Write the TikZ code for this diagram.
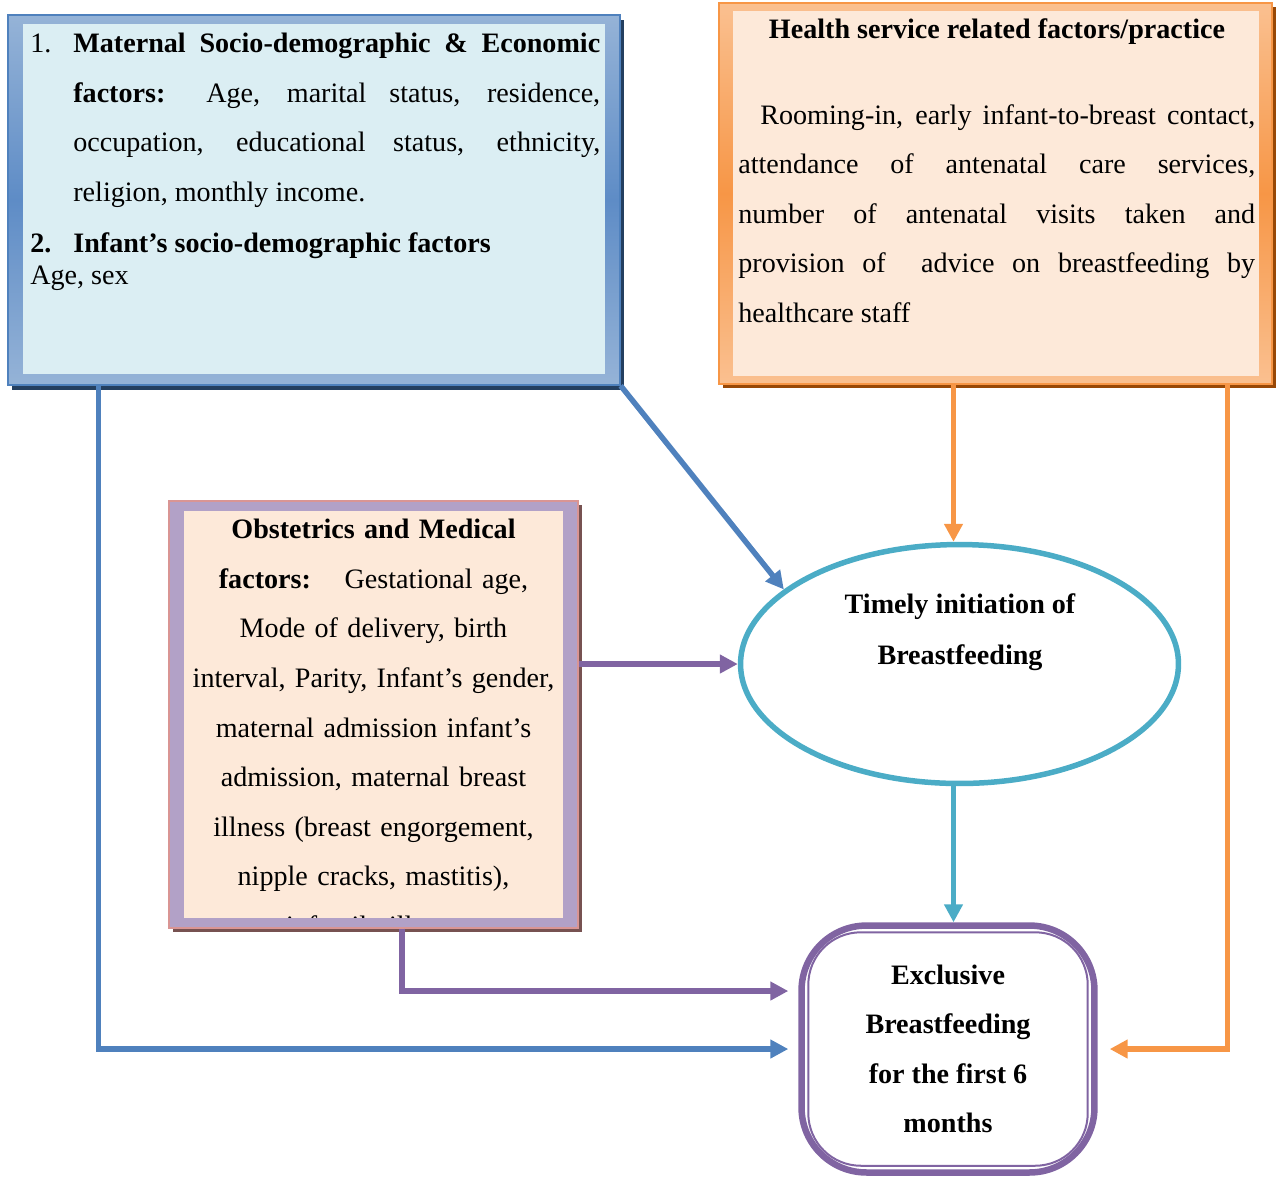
\documentclass[tikz,border=0pt]{standalone}
\usepackage{fontspec}
\setmainfont{Liberation Serif}
\usetikzlibrary{positioning,calc,shapes.geometric,shadows,arrows.meta}

\definecolor{bluefill}{HTML}{DBEEF3}
\definecolor{blueframe}{HTML}{95B3D7}
\definecolor{bluemid}{HTML}{5E8CC6}
\definecolor{blueline}{HTML}{4F81BD}
\definecolor{blueshadow}{HTML}{243F60}
\definecolor{orangefill}{HTML}{FDE9D9}
\definecolor{orangeframe}{HTML}{FAC090}
\definecolor{orangemid}{HTML}{F79646}
\definecolor{orangeline}{HTML}{F79646}
\definecolor{orangeshadow}{HTML}{984806}
\definecolor{lavframe}{HTML}{B2A1C7}
\definecolor{pinkline}{HTML}{D99594}
\definecolor{purpleline}{HTML}{8064A2}
\definecolor{tealline}{HTML}{4BACC6}

\begin{document}
\begin{tikzpicture}[x=0.02cm,y=-0.02cm,
  font=\fontsize{16}{28.2}\selectfont,
  >={Triangle[length=0.36cm,width=0.36cm]},
  link/.style={->,line width=0.11cm},
  txt/.style={inner sep=0pt},
  framebox/.style={line width=0.03cm,inner sep=0pt}]
\useasboundingbox (0,0) rectangle (1277,1178);

% factor boxes
\node[framebox,draw=blueline,top color=blueframe,bottom color=blueframe,middle color=bluemid,
  minimum width=12.24cm,minimum height=7.4cm,
  drop shadow={shadow xshift=0.08cm,shadow yshift=-0.1cm,fill=blueshadow,opacity=1}] (mat) at (314,200) {};
\fill[bluefill] ($(mat.north west)+(16,10)$) rectangle ($(mat.south east)+(-16,-12)$);
\node[txt,anchor=north west,text width=11.4cm,align=justify] (mattxt) at (30,33)
  {\hangindent=0.86cm\hangafter=1\noindent\makebox[0.86cm][l]{1.}\textbf{Maternal Socio-demographic \& Economic}\linebreak
   \textbf{factors:} Age, marital status, residence,\linebreak
   occupation, educational status, ethnicity,\linebreak
   religion, monthly income.\par
   \vspace{1pt}\noindent\makebox[0.86cm][l]{\textbf{2.}}\textbf{Infant’s socio-demographic factors}\par
   {\fontsize{16}{18.2}\selectfont\noindent Age, sex\par}};

\node[framebox,draw=orangeline,top color=orangeframe,bottom color=orangeframe,middle color=orangemid,
  minimum width=11.06cm,minimum height=7.62cm,
  drop shadow={shadow xshift=0.08cm,shadow yshift=-0.08cm,fill=orangeshadow,opacity=1}] (hsf) at (995.5,193.5) {};
\fill[orangefill] ($(hsf.north west)+(15,9)$) rectangle ($(hsf.south east)+(-14,-9)$);
\node[txt,anchor=base] (hsftitle) at (997,38) {\textbf{Health service related factors/practice}};
\node[txt,anchor=north west,text width=10.34cm,align=justify] (hsftxt) at (738,104)
  {\noindent\hspace*{0.44cm}Rooming-in, early infant-to-breast contact,\linebreak
   attendance of antenatal care services,\linebreak
   number of antenatal visits taken and\linebreak
   provision of\ \ advice on breastfeeding by\linebreak
   healthcare staff};

\node[framebox,draw=pinkline,fill=lavframe,
  minimum width=8.18cm,minimum height=8.54cm,
  drop shadow={shadow xshift=0.08cm,shadow yshift=-0.08cm,fill=black!45!pinkline,opacity=1}] (obs) at (373.5,714.5) {};
\fill[orangefill] ($(obs.north west)+(16,11)$) rectangle ($(obs.south east)+(-16,-11)$);
\begin{scope}
  \clip ($(obs.north west)+(16,11)$) rectangle ($(obs.south east)+(-16,-11)$);
  \node[txt,anchor=north,text width=7.54cm,align=center] (obstxt) at (373.5,519)
    {\textbf{Obstetrics and Medical}\\
     \textbf{factors:}\hspace{0.7em} Gestational age,\\
     Mode of delivery, birth\\
     interval, Parity, Infant’s gender,\\
     maternal admission infant’s\\
     admission, maternal breast\\
     illness (breast engorgement,\\
     nipple cracks, mastitis),\\
     infantile illness};
\end{scope}

% outcomes
\node[ellipse,draw=tealline,line width=0.11cm,inner sep=0pt,
  minimum width=8.76cm,minimum height=4.78cm] (tib) at (959.5,664) {};
\node[txt,align=center,font=\fontsize{16}{29}\selectfont\bfseries] (tibtxt) at (960,632)
  {Timely initiation of\\Breastfeeding};

\node[draw=purpleline,line width=0.13cm,rounded corners=1.3cm,inner sep=0pt,
  minimum width=5.86cm,minimum height=4.94cm,align=center,
  font=\fontsize{16}{28.2}\selectfont\bfseries] (ebf) at (948,1049)
  {Exclusive\\Breastfeeding\\for the first 6\\months};
\draw[purpleline,line width=0.04cm,rounded corners=1.05cm]
  ($(ebf.north west)+(10,10)$) rectangle ($(ebf.south east)+(-10,-10)$);

% arrows
\draw[link,blueline] (mat.south east) -- (tib.157);
\draw[link,blueline,shorten >=0.2cm] ($(mat.south west)+(91,0)$) |- (ebf.west);
\draw[link,orangeline] ($(hsf.south)+(-42,0)$) coordinate (hsfdrop) -- (hsfdrop |- tib.north);
\draw[link,orangeline,shorten >=0.24cm] ($(hsf.south east)+(-45,0)$) |- (ebf.east);
\draw[link,purpleline] (tib.west -| obs.east) -- (tib.west);
\draw[link,purpleline,shorten >=0.2cm] ($(obs.south)+(28.5,0)$) |- ($(ebf.west)+(0,-58)$);
\draw[link,tealline] (hsfdrop |- tib.south) -- (hsfdrop |- ebf.north);
\end{tikzpicture}
\end{document}
